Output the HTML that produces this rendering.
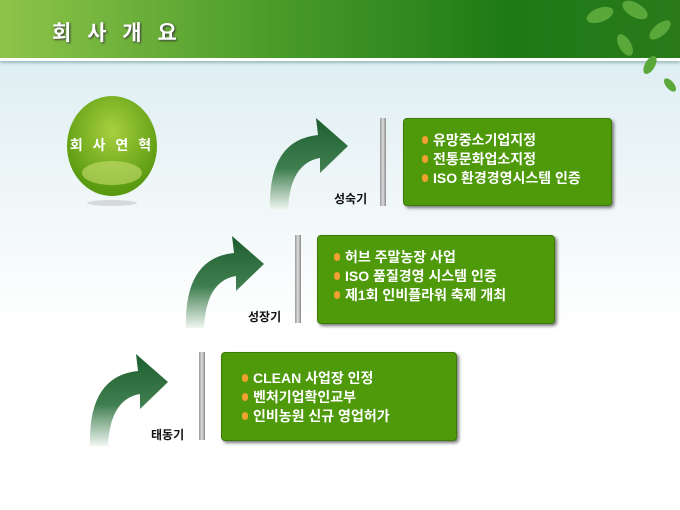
<!DOCTYPE html>
<html><head><meta charset="utf-8"><style>
body{margin:0;width:680px;height:510px;overflow:hidden;position:relative;font-family:"Liberation Sans","Noto Sans CJK KR",sans-serif;background:linear-gradient(#dfeef3 60px,#eaf4f6 150px,#fff 330px);}
.hdr{position:absolute;left:0;top:0;width:680px;height:58px;background:linear-gradient(90deg,#8ec44a 0%,#4a9c2a 40%,#1e7a16 75%,#2a7a1a 100%);border-bottom:3px solid #fff;box-shadow:0 2px 3px #9bb;}
.hdr span{position:absolute;left:52px;top:17px;color:#fff;font-size:21px;font-weight:bold;letter-spacing:5px;text-shadow:1px 1px 2px #333;}
.box{position:absolute;background:#4e9a0a;border-radius:4px;box-shadow:2px 2px 3px #777;border:1px solid #3c7a08;color:#fff;font-size:14px;font-weight:bold;line-height:19px;}
.box div div:before{content:"";display:inline-block;width:6px;height:8px;border-radius:3px;background:#f0a030;margin-right:5px;vertical-align:1px;}
.bar{position:absolute;width:6px;background:linear-gradient(90deg,#999,#ddd,#888);}
.lbl{position:absolute;font-size:12px;font-weight:bold;color:#111;}
svg{position:absolute;}
</style></head><body>
<div class="hdr"><span>회 사 개 요</span></div>
<svg style="left:560px;top:0" width="120" height="100"><g fill="#5aa83a"><ellipse cx="40" cy="15" rx="14" ry="7" transform="rotate(-20 40 15)"/><ellipse cx="75" cy="10" rx="14" ry="7" transform="rotate(30 75 10)"/><ellipse cx="100" cy="30" rx="13" ry="6" transform="rotate(-40 100 30)"/><ellipse cx="65" cy="45" rx="12" ry="6" transform="rotate(60 65 45)"/><ellipse cx="90" cy="65" rx="10" ry="5" transform="rotate(-60 90 65)"/><ellipse cx="110" cy="85" rx="8" ry="4" transform="rotate(50 110 85)"/></g></svg>
<svg style="left:64px;top:93px" width="100" height="115"><defs><radialGradient id="g" cx="50%" cy="35%" r="60%"><stop offset="0" stop-color="#a8d040"/><stop offset="1" stop-color="#5a9a10"/></radialGradient></defs><ellipse cx="48" cy="53" rx="45" ry="50" fill="url(#g)"/><ellipse cx="48" cy="80" rx="30" ry="12" fill="#c8e070" opacity=".6"/><ellipse cx="48" cy="110" rx="25" ry="3" fill="#bbb" opacity=".5"/><text x="48" y="57" text-anchor="middle" fill="#fff" font-size="14" font-weight="bold" letter-spacing="3" font-family="Liberation Sans,Noto Sans CJK KR,sans-serif">회 사 연 혁</text></svg>
<svg width="0" height="0"><defs><linearGradient id="a" x1="0" y1="0" x2="0" y2="1"><stop offset="0" stop-color="#1e5e2e"/><stop offset=".55" stop-color="#3f7f4f"/><stop offset="1" stop-color="#f0f6f2"/></linearGradient></defs></svg>
<svg style="left:268px;top:118px" width="82" height="95"><path d="M50,17 L48,0 L80,28 L52,55 L52,40 Q22,45 20,92 L2,92 Q0,22 50,17 Z" fill="url(#a)"/></svg>
<svg style="left:184px;top:236px" width="82" height="95"><path d="M50,17 L48,0 L80,28 L52,55 L52,40 Q22,45 20,92 L2,92 Q0,22 50,17 Z" fill="url(#a)"/></svg>
<svg style="left:88px;top:354px" width="82" height="95"><path d="M50,17 L48,0 L80,28 L52,55 L52,40 Q22,45 20,92 L2,92 Q0,22 50,17 Z" fill="url(#a)"/></svg>
<div class="bar" style="left:380px;top:118px;height:88px"></div>
<div class="bar" style="left:295px;top:235px;height:88px"></div>
<div class="bar" style="left:199px;top:352px;height:88px"></div>
<div class="lbl" style="left:334px;top:190px">성숙기</div>
<div class="lbl" style="left:248px;top:308px">성장기</div>
<div class="lbl" style="left:151px;top:426px">태동기</div>
<div class="box" style="left:403px;top:118px;width:207px;height:86px;"><div style="padding:12px 0 0 18px">
<div>유망중소기업지정</div><div>전통문화업소지정</div><div>ISO 환경경영시스템 인증</div></div></div>
<div class="box" style="left:317px;top:235px;width:236px;height:87px;"><div style="padding:12px 0 0 16px">
<div>허브 주말농장 사업</div><div>ISO 품질경영 시스템 인증</div><div>제1회 인비플라워 축제 개최</div></div></div>
<div class="box" style="left:221px;top:352px;width:234px;height:87px;"><div style="padding:16px 0 0 20px">
<div>CLEAN 사업장 인정</div><div>벤처기업확인교부</div><div>인비농원 신규 영업허가</div></div></div>
</body></html>
